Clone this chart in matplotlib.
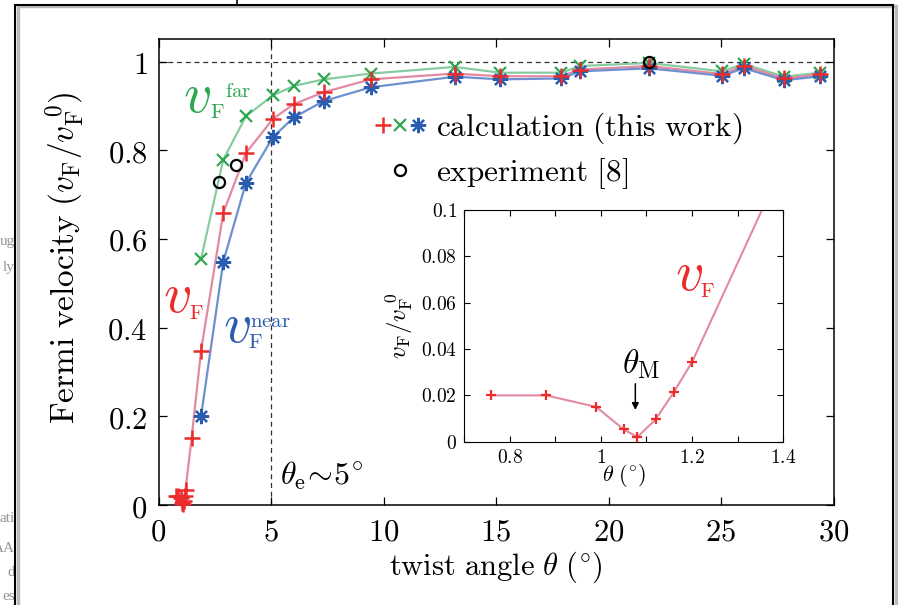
import matplotlib
matplotlib.use("Agg")
import matplotlib.pyplot as plt
from matplotlib.lines import Line2D
from matplotlib.patches import Rectangle
from matplotlib.legend_handler import HandlerTuple

plt.rcParams['mathtext.fontset'] = 'cm'
plt.rcParams['font.family'] = ['DejaVu Serif']

# twist angles (deg) and normalised Fermi velocities
theta_vf = [0.76, 0.88, 0.99, 1.05, 1.08, 1.12, 1.16, 1.20, 1.47, 1.89, 2.88, 3.89,
            5.09, 6.01, 7.34, 9.43, 13.17, 15.18, 17.90, 18.73, 21.79, 25.04, 26.01,
            27.80, 29.41]
vf = [0.020, 0.020, 0.015, 0.0053, 0.002, 0.0096, 0.0214, 0.0344, 0.15, 0.348,
      0.659, 0.794, 0.871, 0.904, 0.931, 0.960, 0.973, 0.967, 0.967, 0.982, 0.990,
      0.972, 0.990, 0.962, 0.971]
theta_nf = [1.89, 2.88, 3.89, 5.09, 6.01, 7.34, 9.43, 13.17, 15.18, 17.90, 18.73,
            21.79, 25.04, 26.01, 27.80, 29.41]
vf_far = [0.555, 0.779, 0.877, 0.924, 0.945, 0.960, 0.973, 0.988, 0.975, 0.975,
          0.990, 0.997, 0.978, 0.995, 0.966, 0.975]
vf_near = [0.200, 0.549, 0.727, 0.830, 0.874, 0.911, 0.942, 0.966, 0.960, 0.962,
           0.978, 0.985, 0.968, 0.985, 0.958, 0.967]
theta_exp = [2.70, 3.46, 21.79]
vf_exp = [0.729, 0.767, 0.998]

xticks_main = [0, 5, 10, 15, 20, 25, 30]
yticks_main = [0, 0.2, 0.4, 0.6, 0.8, 1]
xticks_in = [0.7, 0.8, 0.9, 1.0, 1.1, 1.2, 1.3, 1.4]
xlabels_in = ['', '0.8', '', '1', '', '1.2', '', '1.4']
yticks_in = [0, 0.02, 0.04, 0.06, 0.08, 0.1]
ylabels_in = ['0', '0.02', '0.04', '0.06', '0.08', '0.1']

red_m, red_l = '#ec2b2b', '#e38aa3'
grn_m, grn_l = '#2fa652', '#86cca0'
blu_m, blu_l = '#2a5cb0', '#6f90d0'
aster = (8, 2, 0)


def m(s):
    return r'$\mathrm{' + s.replace(' ', r'\ ') + '}$'


fig = plt.figure(figsize=(8.98, 6.05), dpi=100)

# page frame around the figure
fig.patches.append(Rectangle((17.5 / 898, -0.1), 878 / 898, 1.09, transform=fig.transFigure,
                             fill=False, ec='#bbbbbb', lw=2.5, zorder=0))
fig.patches.append(Rectangle((15 / 898, -0.1), 878 / 898, 0.1 + 600 / 605, transform=fig.transFigure,
                             fill=False, ec='black', lw=1.5, zorder=1))
fig.lines.append(Line2D([237 / 898, 237 / 898], [600 / 605, 1.0], transform=fig.transFigure,
                        color='black', lw=1.2))
for txt, yp in [('ug', 242), ('ly', 268), ('ati', 518), ('AA', 548), ('d', 573), ('es', 597)]:
    fig.text(15 / 898, 1 - yp / 605, txt, ha='right', va='center', fontsize=11,
             color='#959595', family='Liberation Serif', zorder=0)

ax = fig.add_axes([158.5 / 898, 100 / 605, 675 / 898, 466 / 605])
ax.plot(theta_nf, vf_far, color=grn_l, lw=1.6, zorder=2)
ax.plot(theta_vf, vf, color=red_l, lw=1.6, zorder=2)
ax.plot(theta_nf, vf_near, color=blu_l, lw=1.6, zorder=2)
ax.plot(theta_nf, vf_far, ls='none', marker='x', ms=9, mew=1.6, color=grn_m, zorder=3)
ax.plot(theta_nf, vf_near, ls='none', marker=aster, ms=11, mew=1.6, color=blu_m, zorder=3)
ax.plot(theta_vf, vf, ls='none', marker='+', ms=12, mew=1.8, color=red_m, zorder=4, clip_on=False)
ax.plot(theta_exp, vf_exp, ls='none', marker='o', ms=8, mew=1.6, mfc='none', mec='black', zorder=5)

ax.axhline(1, color='#333333', lw=0.9, ls=(0, (4, 3)), zorder=1)
ax.axvline(5, color='#333333', lw=0.9, ls=(0, (4, 3)), zorder=1)

ax.set_xlim(0, 30)
ax.set_ylim(0, 1.051)
ax.set_xticks(xticks_main)
ax.set_xticklabels([m(str(t)) for t in xticks_main], fontsize=22)
ax.set_yticks(yticks_main)
ax.set_yticklabels([m(str(t)) for t in yticks_main], fontsize=22)
ax.tick_params(direction='in', length=6, width=0.9, top=True, right=True, pad=8)
for s in ax.spines.values():
    s.set_linewidth(1.1)
ax.set_xlabel(r'$\mathrm{twist\ angle}\ \theta\ (^{\circ})$', fontsize=22, labelpad=2)
ax.set_ylabel(r'$\mathrm{Fermi\ velocity}\ (v_{\mathrm{F}}/v_{\mathrm{F}}^{\ 0})$', fontsize=24)
ax.yaxis.set_label_coords(-0.107, 0.53)

# curve labels
ax.text(1.09, 0.886, r'$v$', color=grn_m, fontsize=40)
ax.text(2.29, 0.873, m('F'), color=grn_m, fontsize=15)
ax.text(2.96, 0.92, m('far'), color=grn_m, fontsize=15)
ax.text(0.2, 0.435, r'$v$', color=red_m, fontsize=40)
ax.text(1.36, 0.419, m('F'), color=red_m, fontsize=15)
ax.text(2.87, 0.3675, r'$v$', color=blu_m, fontsize=40)
ax.text(3.98, 0.354, m('F'), color=blu_m, fontsize=15)
ax.text(4.07, 0.401, m('near'), color=blu_m, fontsize=15)
ax.text(5.4, 0.045, r'$\theta_{\mathrm{e}}\!\sim\!5^{\circ}$', fontsize=23)

calc = (Line2D([], [], ls='none', marker='+', ms=12, mew=1.8, color=red_m),
        Line2D([], [], ls='none', marker='x', ms=9, mew=1.6, color=grn_m),
        Line2D([], [], ls='none', marker=aster, ms=11, mew=1.6, color=blu_m))
expt = Line2D([], [], ls='none', marker='o', ms=8, mew=1.6, mfc='none', mec='black')
ax.legend([calc, expt], [m('calculation (this work)'), m('experiment [8]')],
          handler_map={tuple: HandlerTuple(ndivide=None, pad=0.1)},
          loc='upper left', bbox_to_anchor=(0.298, 0.88), frameon=False, fontsize=22.5,
          handlelength=1.6, handletextpad=0.35, labelspacing=0.32, borderpad=0)

# inset
ins = fig.add_axes([464 / 898, (605 - 441.7) / 605, 319.3 / 898, 231.7 / 605])
ins.plot(theta_vf, vf, color=red_l, lw=1.5, zorder=2)
ins.plot(theta_vf, vf, ls='none', marker='+', ms=7, mew=1.6, color=red_m, zorder=3)
ins.set_xlim(0.7, 1.4)
ins.set_ylim(0, 0.1)
ins.set_xticks(xticks_in)
ins.set_xticklabels([m(t) if t else '' for t in xlabels_in], fontsize=14)
ins.set_yticks(yticks_in)
ins.set_yticklabels([m(t) for t in ylabels_in], fontsize=14)
ins.tick_params(direction='in', length=4, width=0.8, top=True, right=True, pad=5)
ins.set_xlabel(r'$\theta\ (^{\circ})$', fontsize=16, labelpad=-3)
ins.set_ylabel(r'$v_{\mathrm{F}}/v_{\mathrm{F}}^{\ 0}$', fontsize=18, labelpad=4)
ins.text(1.1626, 0.0655, r'$v$', color=red_m, fontsize=40)
ins.text(1.2174, 0.0625, m('F'), color=red_m, fontsize=15)
ins.text(1.0457, 0.0295, r'$\theta_{\mathrm{M}}$', fontsize=24)
ins.annotate('', xy=(1.0756, 0.0125), xytext=(1.0756, 0.0262),
             arrowprops=dict(arrowstyle='-|>', color='black', lw=1.1, mutation_scale=10))

fig.savefig('out.png', dpi=100)
